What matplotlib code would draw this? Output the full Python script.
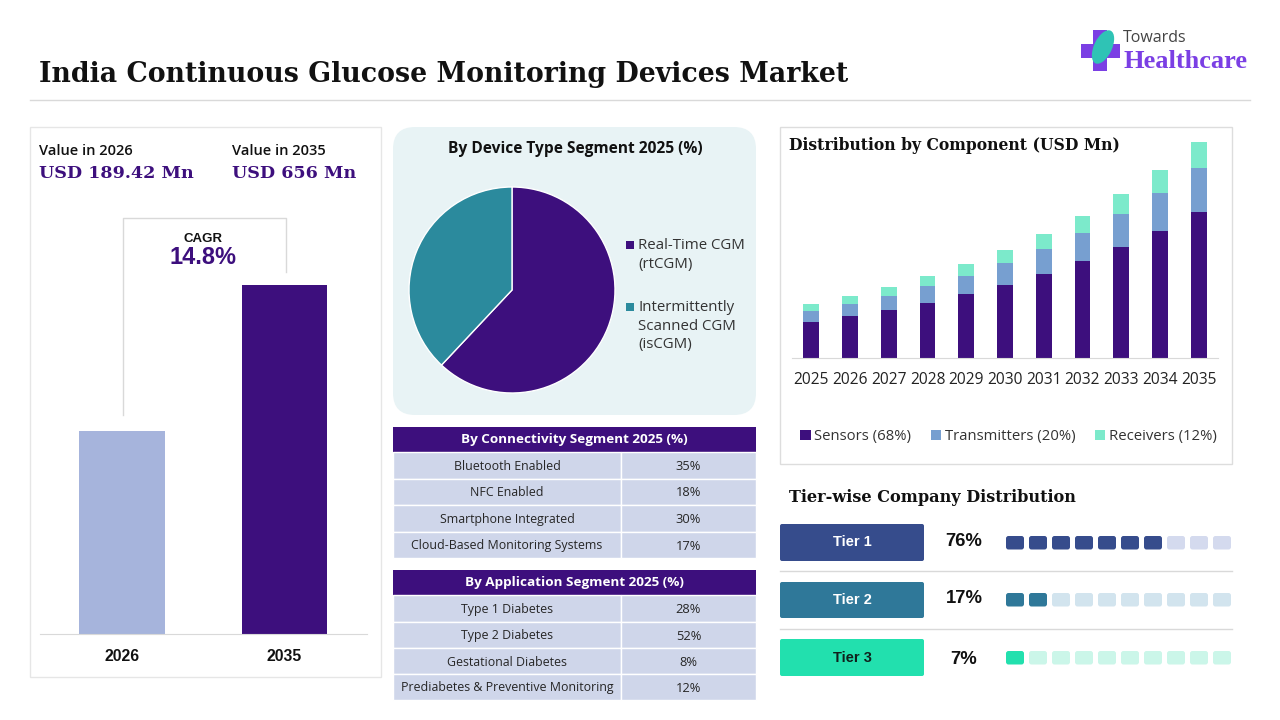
import matplotlib
matplotlib.use("Agg")
import matplotlib.pyplot as plt
from matplotlib.patches import FancyBboxPatch, Rectangle, Polygon, Ellipse

W, H = 1280, 720
SANS = ["Open Sans", "DejaVu Sans"]
SERIF = ["DejaVu Serif"]
LOGO = ["Liberation Serif", "DejaVu Serif"]
HEAD = ["Liberation Sans", "DejaVu Sans"]

PURPLE = "#3d0f7d"
TEAL = "#2b8a9d"
BLUE = "#779fd0"
MINT = "#7ceacb"
LINE = "#d9d9d9"

# value panel
value_years = ["2026", "2035"]
value_bar_heights = [203, 349]  # drawn heights, bars are not to scale in the source
value_bar_colors = ["#a6b4dc", PURPLE]

# pie
pie_labels = ["Real-Time CGM\n(rtCGM)", "Intermittently\nScanned CGM\n(isCGM)"]
pie_values = [62, 38]
pie_colors = [PURPLE, TEAL]

# tables
connectivity_names = ["Bluetooth Enabled", "NFC Enabled", "Smartphone Integrated", "Cloud-Based Monitoring Systems"]
connectivity_values = ["35%", "18%", "30%", "17%"]
application_names = ["Type 1 Diabetes", "Type 2 Diabetes", "Gestational Diabetes", "Prediabetes & Preventive Monitoring"]
application_values = ["28%", "52%", "8%", "12%"]

# stacked bars, USD Mn
years = ["2025", "2026", "2027", "2028", "2029", "2030", "2031", "2032", "2033", "2034", "2035"]
sensors = [109, 128, 146, 167, 194, 222, 255, 295, 337, 386, 443]
transmitters = [33, 36, 43, 52, 55, 67, 76, 85, 100, 115, 134]
receivers = [22, 24, 27, 30, 37, 39, 46, 51, 61, 70, 79]

# tiers
tier_names = ["Tier 1", "Tier 2", "Tier 3"]
tier_pcts = ["76%", "17%", "7%"]
tier_filled = [7, 2, 1]
tier_colors = ["#364c8c", "#2f7899", "#22e0ae"]
tier_light = ["#d4daee", "#d2e4ee", "#cbf6e9"]
tier_text = ["white", "white", "#10201c"]


def px_axes(left, top, right, bottom):
    # axes placed by pixel box
    ax = fig.add_axes([left / W, 1 - bottom / H, (right - left) / W, (bottom - top) / H])
    ax.patch.set_alpha(0)
    return ax


def rbox(x0, y0, x1, y1, r, color, **kw):
    bg.add_patch(FancyBboxPatch((x0 + r, y0 + r), x1 - x0 - 2 * r, y1 - y0 - 2 * r,
                                boxstyle=f"round,pad={r},rounding_size={r}", fc=color, ec="none", **kw))


def draw_table(title, names, values, y_head, y_rows):
    bg.add_patch(Rectangle((393, y_head), 363, y_rows[0] - y_head, fc=PURPLE, ec="none"))
    bg.text(574.5, (y_head + y_rows[0]) / 2, title, color="white", fontsize=9.7, fontweight="bold",
            family=SANS, ha="center", va="center")
    for i in range(len(names)):
        y0, y1 = y_rows[i], y_rows[i + 1]
        bg.add_patch(Rectangle((393, y0), 228, y1 - y0, fc="#cfd6ea", ec="white", lw=1))
        bg.add_patch(Rectangle((621, y0), 135, y1 - y0, fc="#cfd6ea", ec="white", lw=1))
        bg.text(507, (y0 + y1) / 2 + 1, names[i], color="#262626", fontsize=8.9, family=SANS, ha="center", va="center")
        bg.text(688.5, (y0 + y1) / 2 + 1, values[i], color="#262626", fontsize=9.3, family=SANS, ha="center", va="center")


fig = plt.figure(figsize=(W / 100, H / 100), dpi=100, facecolor="white")

# full figure layer in pixel coordinates for panels and text
bg = fig.add_axes([0, 0, 1, 1])
bg.set_xlim(0, W)
bg.set_ylim(H, 0)
bg.axis("off")

bg.text(39, 75, "India Continuous Glucose Monitoring Devices Market", fontsize=19.3, fontweight="bold",
        family=SERIF, color="#111111", ha="left", va="center")
bg.plot([30, 1250], [99.5, 99.5], color=LINE, lw=1)

# logo
bg.add_patch(Polygon([(1093, 30), (1107, 30), (1107, 44), (1120, 44), (1120, 58), (1107, 58), (1107, 71),
                      (1093, 71), (1093, 58), (1081, 58), (1081, 44), (1093, 44)], fc="#7b3fe4", ec="none"))
bg.add_patch(Ellipse((1103, 47), 18, 36, angle=25, fc="#2fc3b5", ec="none"))
bg.text(1123, 38, "Towards", fontsize=11.5, family=SANS, color="#444444", ha="left", va="center")
bg.text(1123, 62, "Healthcare", fontsize=19, fontweight="bold", family=LOGO, color="#7b3fe4", ha="left", va="center")

# left panel
bg.add_patch(Rectangle((30, 127), 351, 550, fc="white", ec="#e6e6e6", lw=1))
bg.text(39, 151, "Value in 2026", fontsize=10.5, fontweight="semibold", family=SANS, color="#111111", va="center")
bg.text(232, 151, "Value in 2035", fontsize=10.5, fontweight="semibold", family=SANS, color="#111111", va="center")
bg.text(39, 174, "USD 189.42 Mn", fontsize=12.6, fontweight="bold", family=SERIF, color=PURPLE, va="center")
bg.text(232, 174, "USD 656 Mn", fontsize=12.6, fontweight="bold", family=SERIF, color=PURPLE, va="center")
bg.plot([122.5, 122.5, 285.5, 285.5], [415, 217.5, 217.5, 272], color=LINE, lw=1)
bg.text(203, 239, "CAGR", fontsize=9.5, fontweight="bold", family=HEAD, color="#111111", ha="center", va="center")
bg.text(203, 258, "14.8%", fontsize=17, fontweight="bold", family=HEAD, color=PURPLE, ha="center", va="center")

ax_val = px_axes(40, 254, 367, 634)
ax_val.bar(range(2), value_bar_heights, width=0.525, color=value_bar_colors)
ax_val.set_xlim(-0.505, 1.508)
ax_val.set_ylim(0, 380)
ax_val.set_xticks(range(2), value_years, fontsize=11.3, fontweight="bold", family=HEAD, color="#111111")
ax_val.set_yticks([])
for s in ["top", "left", "right"]:
    ax_val.spines[s].set_visible(False)
ax_val.spines["bottom"].set_color(LINE)
ax_val.tick_params(axis="x", length=0, pad=11)

# pie panel
rbox(393, 127, 756, 415, 22, "#e8f3f5")
bg.text(575, 149, "By Device Type Segment 2025 (%)", fontsize=11.2, fontweight="bold", family=SANS,
        color="#111111", ha="center", va="center")
ax_pie = px_axes(409, 187, 615, 393)
ax_pie.pie(pie_values, colors=pie_colors, startangle=90, counterclock=False, radius=1,
           wedgeprops={"edgecolor": "white", "linewidth": 1})
ax_pie.set_xlim(-1, 1)
ax_pie.set_ylim(-1, 1)
bg.text(585, 319, f"{pie_values[0]}%", fontsize=10, fontweight="bold", family=HEAD, color="white", ha="center", va="center")
bg.text(439, 261, f"{pie_values[1]}%", fontsize=10, fontweight="bold", family=HEAD, color="white", ha="center", va="center")
for y_mark, y_text, lab, col in zip([245, 307], [255, 326], pie_labels, pie_colors):
    bg.add_patch(Rectangle((626, y_mark - 4), 8, 8, fc=col, ec="none"))
    bg.text(638, y_text, lab, fontsize=10.8, family=SANS, color="#333333", va="center", linespacing=1.33)

# tables
draw_table("By Connectivity Segment 2025 (%)", connectivity_names, connectivity_values, 427, [452, 479, 505, 532, 558])
draw_table("By Application Segment 2025 (%)", application_names, application_values, 570, [595, 622, 648, 674, 700])

# stacked chart panel
bg.add_patch(Rectangle((780, 127), 452, 337, fc="white", ec="#dddddd", lw=1))
bg.text(789, 145, "Distribution by Component (USD Mn)", fontsize=11.25, fontweight="bold", family=SERIF,
        color="#111111", va="center")
ax_st = px_axes(792, 135, 1218, 358)
xs = range(len(years))
bottom2 = [a + b for a, b in zip(sensors, transmitters)]
ax_st.bar(xs, sensors, width=0.41, color=PURPLE, label="Sensors (68%)")
ax_st.bar(xs, transmitters, width=0.41, bottom=sensors, color=BLUE, label="Transmitters (20%)")
ax_st.bar(xs, receivers, width=0.41, bottom=bottom2, color=MINT, label="Receivers (12%)")
ax_st.set_xlim(-0.5, 10.5)
ax_st.set_ylim(0, 678)
ax_st.set_xticks(list(xs), years, fontsize=11.2, family=SANS, color="#222222")
ax_st.set_yticks([])
for s in ["top", "left", "right"]:
    ax_st.spines[s].set_visible(False)
ax_st.spines["bottom"].set_color(LINE)
ax_st.tick_params(axis="x", length=0, pad=10)
ax_st.legend(ncol=3, frameon=False, loc="center", bbox_to_anchor=((1008.5 - 792) / 426, -(436.5 - 358) / 223),
             prop={"family": SANS, "size": 10.7}, labelcolor="#333333", handlelength=0.7, handleheight=0.7,
             handletextpad=0.25, columnspacing=1.3)

# tiers
bg.text(789, 498, "Tier-wise Company Distribution", fontsize=11.6, fontweight="bold", family=SERIF,
        color="#111111", va="center")
bg.plot([780, 1232], [571, 571], color=LINE, lw=1)
bg.plot([780, 1232], [629, 629], color=LINE, lw=1)
tier_tops = [524, 582, 639]
tier_bots = [561, 618, 676]
square_tops = [536, 593, 651]
pct_y = [541.5, 598.5, 659]
for i, name in enumerate(tier_names):
    rbox(780, tier_tops[i], 924, tier_bots[i], 2, tier_colors[i])
    mid = (tier_tops[i] + tier_bots[i]) / 2
    bg.text(852, mid, name, fontsize=10.5, fontweight="bold", family=HEAD, color=tier_text[i], ha="center", va="center")
    bg.text(964, pct_y[i], tier_pcts[i], fontsize=13.3, fontweight="bold", family=HEAD, color="#111111", ha="center", va="center")
    for j in range(10):
        col = tier_colors[i] if j < tier_filled[i] else tier_light[i]
        x0 = 1006 + j * 23
        rbox(x0, square_tops[i], x0 + 18, square_tops[i] + 13.5, 2.5, col)

fig.savefig("out.png", dpi=100)
